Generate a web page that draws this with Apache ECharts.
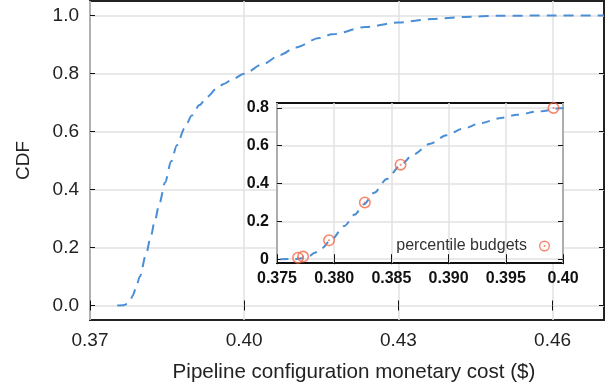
<!DOCTYPE html>
<html>
<head>
<meta charset="utf-8">
<script src="https://cdn.jsdelivr.net/npm/echarts@6/dist/echarts.min.js"></script>
<style>
html,body{margin:0;padding:0;background:#fff;}
#chart{width:611px;height:388px;}
</style>
</head>
<body>
<div id="chart"></div>
<script>
// CDF curve: monetary cost ($) vs cumulative fraction
const cdfCost = [0.3753, 0.3765, 0.3772, 0.3778, 0.3783, 0.3789, 0.3797, 0.3809, 0.3818, 0.3826, 0.3835, 0.3846, 0.3858, 0.3869, 0.3884, 0.3898, 0.3913, 0.3928, 0.3946, 0.3960, 0.3978, 0.4000, 0.4035, 0.4070, 0.4100, 0.4146, 0.4171, 0.4236, 0.4300, 0.4365, 0.4430, 0.4495, 0.4600, 0.4700];
const cdfValue = [0.000, 0.001, 0.005, 0.016, 0.034, 0.058, 0.100, 0.176, 0.236, 0.291, 0.352, 0.424, 0.497, 0.553, 0.611, 0.655, 0.691, 0.720, 0.747, 0.764, 0.781, 0.799, 0.831, 0.864, 0.890, 0.922, 0.935, 0.960, 0.976, 0.988, 0.995, 0.999, 1.000, 1.000];
// percentile budgets (inset markers)
const budgetCost = [0.37684, 0.37728, 0.37955, 0.38268, 0.38580, 0.39917];
const budgetValue = [0.008, 0.014, 0.100, 0.300, 0.500, 0.800];
// tick labels
const mainXTicks = [0.37, 0.40, 0.43, 0.46];
const mainYTicks = [0.0, 0.2, 0.4, 0.6, 0.8, 1.0];
const insetYTicks = [0, 0.2, 0.4, 0.6, 0.8];

const cdfData = cdfCost.map((c, i) => [c, cdfValue[i]]);
const budgetData = budgetCost.map((c, i) => [c, budgetValue[i]]);

const lineColor = '#4a8ed6';
const markColor = '#f4694b';
const FONT = 'Liberation Sans, Arial, Helvetica, sans-serif';
const ringPath = 'path://M10,0 A10,10 0 1,1 10,20 A10,10 0 1,1 10,0 Z M10,2.6 A7.4,7.4 0 1,0 10,17.4 A7.4,7.4 0 1,0 10,2.6 Z M10,8.3 A1.7,1.7 0 1,1 10,11.7 A1.7,1.7 0 1,1 10,8.3 Z';

const chart = echarts.init(document.getElementById('chart'), null, {renderer: 'canvas'});

function hiddenAxis(base) {
  return Object.assign({
    axisLabel: {show: false},
    splitLine: {show: false},
    axisLine: {show: false},
    axisTick: {show: true, inside: true, length: 5, lineStyle: {color: '#111', width: 1}}
  }, base);
}

const option = {
  animation: false,
  backgroundColor: '#fff',
  textStyle: {fontFamily: FONT},
  grid: [
    {left: 90, right: 7, top: 1, bottom: 66, show: true, borderColor: '#222', borderWidth: 2, backgroundColor: 'transparent', z: 0},
    {left: 277, right: 48, top: 103, bottom: 125, show: true, borderColor: '#111', borderWidth: 2, backgroundColor: '#fff', z: 1}
  ],
  legend: {
    data: ['percentile budgets'],
    align: 'right',
    right: 61, top: 238,
    itemWidth: 25, itemHeight: 11,
    padding: 0,
    textStyle: {fontSize: 16, color: '#333', fontFamily: FONT},
    z: 10
  },
  xAxis: [
    {
      type: 'value', gridIndex: 0, position: 'bottom', min: 0.37, max: 0.47,
      name: 'Pipeline configuration monetary cost ($)', nameLocation: 'middle', nameGap: 42,
      nameTextStyle: {fontSize: 20.6, color: '#222', fontFamily: FONT, padding: [0, 0, 0, 14]},
      axisLine: {show: false},
      axisTick: {show: true, inside: true, length: 5, customValues: mainXTicks, lineStyle: {color: '#111'}},
      axisLabel: {customValues: mainXTicks, fontSize: 19, color: '#222', margin: 11, formatter: v => v.toFixed(2)},
      splitLine: {show: true, lineStyle: {color: '#e2e2e2', width: 1.5}}
    },
    hiddenAxis({type: 'value', gridIndex: 0, position: 'top', min: 0.37, max: 0.47,
      axisTick: {show: true, inside: true, length: 5, customValues: mainXTicks, lineStyle: {color: '#111'}}}),
    {
      type: 'value', gridIndex: 1, position: 'bottom', min: 0.375, max: 0.400, interval: 0.005,
      axisLine: {show: false}, z: 2,
      axisTick: {show: true, inside: true, length: 5, lineStyle: {color: '#111'}},
      axisLabel: {fontSize: 16, fontWeight: 'bold', color: '#111', margin: 8,
        formatter: v => Math.abs(v - 0.4) < 1e-9 ? '0.40' : v.toFixed(3)},
      splitLine: {show: true, lineStyle: {color: '#e2e2e2', width: 1.5}}
    },
    hiddenAxis({type: 'value', gridIndex: 1, position: 'top', min: 0.375, max: 0.400, interval: 0.005, z: 2})
  ],
  yAxis: [
    {
      type: 'value', gridIndex: 0, position: 'left', min: -0.05, max: 1.05,
      name: 'CDF', nameLocation: 'middle', nameGap: 57,
      nameTextStyle: {fontSize: 19, color: '#222', fontFamily: FONT},
      axisLine: {show: false},
      axisTick: {show: true, inside: true, length: 5, customValues: mainYTicks, lineStyle: {color: '#111'}},
      axisLabel: {customValues: mainYTicks, fontSize: 19, color: '#222', margin: 11, formatter: v => v.toFixed(1)},
      splitLine: {show: true, lineStyle: {color: '#e2e2e2', width: 1.5}}
    },
    hiddenAxis({type: 'value', gridIndex: 0, position: 'right', min: -0.05, max: 1.05,
      axisTick: {show: true, inside: true, length: 5, customValues: mainYTicks, lineStyle: {color: '#111'}}}),
    {
      type: 'value', gridIndex: 1, position: 'left', min: -0.02, max: 0.826,
      axisLine: {show: false}, z: 2,
      axisTick: {show: true, inside: true, length: 5, customValues: insetYTicks, lineStyle: {color: '#111'}},
      axisLabel: {customValues: insetYTicks, fontSize: 16, fontWeight: 'bold', color: '#111', margin: 8,
        formatter: v => v === 0 ? '0' : v.toFixed(1)},
      splitLine: {show: true, lineStyle: {color: '#e2e2e2', width: 1.5}}
    },
    hiddenAxis({type: 'value', gridIndex: 1, position: 'right', min: -0.02, max: 0.826, z: 2,
      axisTick: {show: true, inside: true, length: 5, customValues: insetYTicks, lineStyle: {color: '#111'}}})
  ],
  series: [
    {
      name: 'cdf', type: 'line', xAxisIndex: 0, yAxisIndex: 0, data: cdfData,
      showSymbol: false, smooth: 0.3, smoothMonotone: 'x', clip: true,
      lineStyle: {color: lineColor, width: 2, type: [10, 7]}, z: 2
    },
    {
      name: 'cdf-inset', type: 'line', xAxisIndex: 2, yAxisIndex: 2, data: cdfData,
      showSymbol: false, smooth: 0.3, smoothMonotone: 'x', clip: true,
      lineStyle: {color: lineColor, width: 2, type: [8, 7]}, z: 3
    },
    {
      name: 'percentile budgets', type: 'scatter', xAxisIndex: 2, yAxisIndex: 2, data: budgetData,
      symbol: ringPath, symbolSize: 12, symbolKeepAspect: true,
      itemStyle: {color: markColor}, z: 4, clip: false
    }
  ]
};
chart.setOption(option);
</script>
</body>
</html>
